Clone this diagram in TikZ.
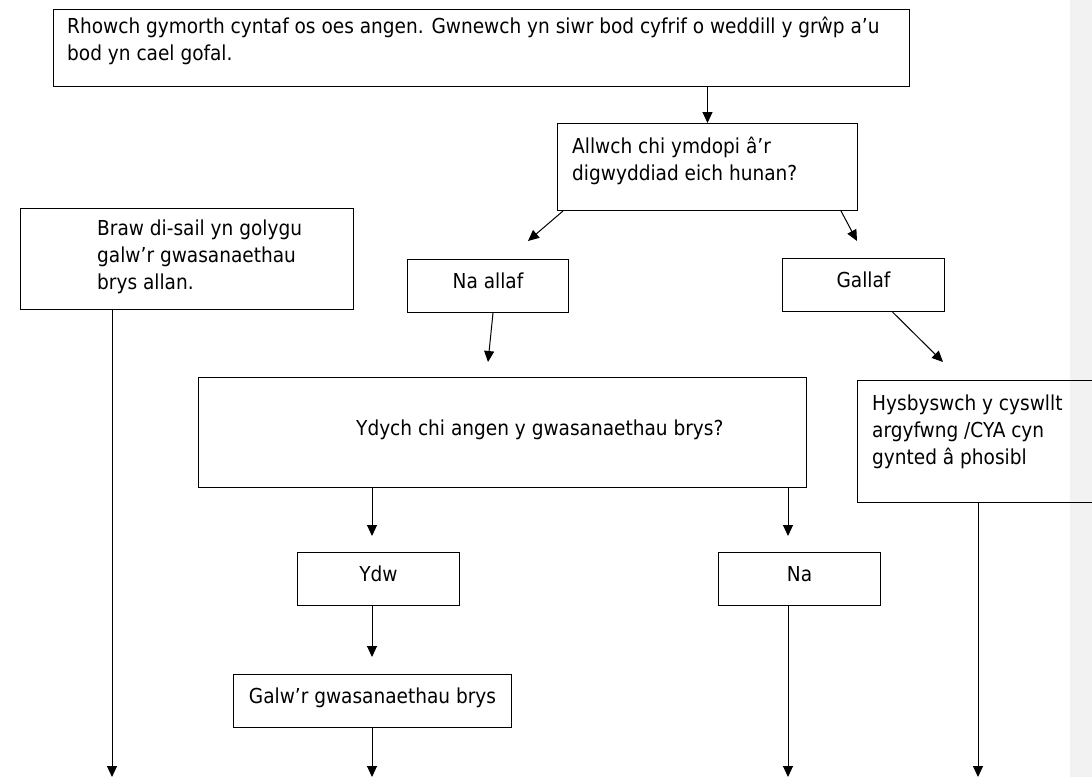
\documentclass[tikz,border=0pt]{standalone}
\usepackage{fontspec}
\setmainfont{DejaVu Sans Condensed}
\usetikzlibrary{arrows.meta, positioning}
\definecolor{margingray}{HTML}{F2F2F2}
\tikzset{
  box/.style={rectangle,draw=black,line width=1pt,inner sep=0pt,
    font=\fontsize{20.6}{27}\selectfont,text height=0.73em,text depth=0.2em},
  txt/.style={inner sep=0pt,align=left,font=\fontsize{20.6}{27}\selectfont},
  arr/.style={-{Triangle[length=11pt,width=10pt]},line width=1pt}
}

\begin{document}
\begin{tikzpicture}[x=1pt,y=-1pt]

  \useasboundingbox (0,0) rectangle (1092,777);
  % Comment margin
  \fill[margingray] (1070,0) rectangle (1092,777);

  % Boxes
  \node[box,anchor=north west,minimum width=856,minimum height=77] (help) at (53,9) {};
  \node[box,anchor=north west,minimum width=300,minimum height=87] (cope) at (557,123) {};
  \node[box,anchor=north west,minimum width=333,minimum height=101] (panic) at (20,208) {};
  \node[box,anchor=north west,minimum width=161,minimum height=53] (cant) at (407,259) {Na allaf};
  \node[box,anchor=north west,minimum width=162,minimum height=53] (can) at (782,258) {Gallaf};
  \node[box,anchor=north west,minimum width=608,minimum height=110] (need) at (198,377) {};
  \node[box,anchor=north west,minimum width=243,minimum height=122] (inform) at (857,380) {};
  \node[box,anchor=north west,minimum width=162,minimum height=53] (yes) at (297,552) {Ydw};
  \node[box,anchor=north west,minimum width=162,minimum height=53] (no) at (718,552) {Na};
  \node[box,anchor=north west,minimum width=278,minimum height=53] (call) at (233,674) {Galw’r gwasanaethau brys};

  % Box texts (base = last line)
  \node[txt,anchor=base west] (help-t) at ([shift={(14,51)}]help.north west)
    {Rhowch gymorth cyntaf os oes angen. Gwnewch yn siwr bod cyfrif o weddill y grŵp a’u\\bod yn cael gofal.};
  \node[txt,anchor=base west] (cope-t) at ([shift={(15,57)}]cope.north west)
    {Allwch chi ymdopi â’r\\digwyddiad eich hunan?};
  \node[txt,anchor=base west] (panic-t) at ([shift={(77,81)}]panic.north west)
    {Braw di-sail yn golygu\\galw’r gwasanaethau\\brys allan.};
  \node[txt,anchor=base west] (need-t) at ([shift={(158,58)}]need.north west)
    {Ydych chi angen y gwasanaethau brys?};
  \node[txt,anchor=base west] (inform-t) at ([shift={(15,84)}]inform.north west)
    {Hysbyswch y cyswllt\\argyfwng /CYA cyn\\gynted â phosibl};

  % Free arrow ends
  \coordinate (cant-in) at (528,241);
  \coordinate (can-in) at (857,241);
  \coordinate (need-in) at (488,362);
  \coordinate (inform-in) at (943,362);
  \coordinate (yes-in) at (372,536);
  \coordinate (no-in) at (788,536);
  \coordinate (call-in) at (372,657);
  \foreach \x/\n in {112/panic,372/call,788/no,978/inform}{
    \coordinate (\n-out) at (\x,777);
  }

  % Arrows
  \draw[arr] (help.south -| cope.north) -- (cope.north);
  \draw[arr] ([xshift=6pt]cope.south west) -- (cant-in);
  \draw[arr] ([xshift=-17pt]cope.south east) -- (can-in);
  \draw[arr] ([xshift=5pt]cant.south) -- (need-in);
  \draw[arr] ([xshift=29pt]can.south) -- (inform-in);
  \draw[arr] (need.south -| yes-in) -- (yes-in);
  \draw[arr] (need.south -| no-in) -- (no-in);
  \draw[arr] (yes.south -| call-in) -- (call-in);
  \draw[arr] (call.south -| call-out) -- (call-out);
  \draw[arr] (panic.south -| panic-out) -- (panic-out);
  \draw[arr] (no.south -| no-out) -- (no-out);
  \draw[arr] (inform.south -| inform-out) -- (inform-out);

\end{tikzpicture}
\end{document}
